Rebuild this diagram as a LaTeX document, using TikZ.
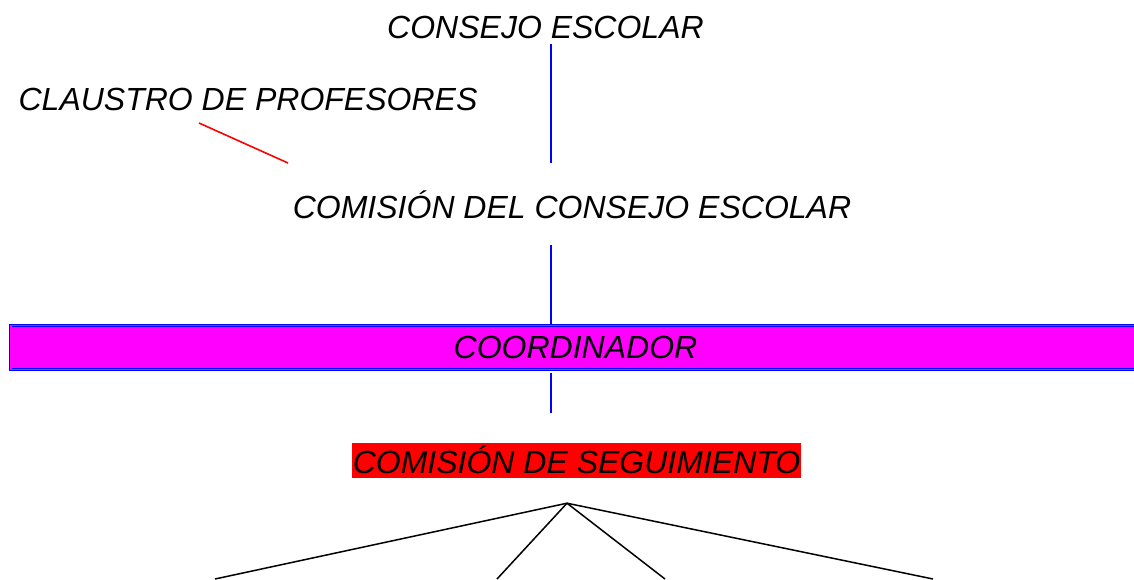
\documentclass[tikz,border=0pt]{standalone}
\usepackage{fontspec}
\setmainfont{Liberation Sans}
\usetikzlibrary{positioning}
\definecolor{boxpink}{RGB}{255,0,255}
\definecolor{boxred}{RGB}{255,0,0}
\definecolor{linkblue}{RGB}{0,0,255}
\tikzset{lbl/.style = {anchor = base, inner sep = 0, font = \fontsize{32}{36}\selectfont\itshape},
  bluelink/.style = {draw = linkblue, line width = 1.8pt},
  redlink/.style = {draw = boxred, line width = 1.6pt},
  branch/.style = {draw = black, line width = 1.5pt}}

\begin{document}
\begin{tikzpicture}[x=1pt, y=-1pt]
      \useasboundingbox (0, 0) rectangle (1134, 579);
      \clip (0, 0) rectangle (1134, 579);
      \coordinate (spine) at (551, 0);

      \node [lbl] (consejo) at (545.5, 38) {CONSEJO ESCOLAR};
      \node [lbl] (claustro) at (248, 110) {CLAUSTRO DE PROFESORES};
      \node [lbl] (comision) at (572, 218) {COMISIÓN DEL CONSEJO ESCOLAR};
      \node [lbl, anchor = center, draw = linkblue, line width = 0.8pt, double = boxpink, double distance = 1.8pt,
        fill = boxpink, minimum width = 1129.6pt, minimum height = 44pt] (coord) at (575.5, 347.5) {COORDINADOR};
      \node [lbl, fill = boxred, inner xsep = 1pt, text height = 29.7pt, text depth = 5.3pt] (seguim) at (576.5, 473) {COMISIÓN DE SEGUIMIENTO};

      \draw [bluelink] ([yshift=-6pt]consejo.base -| spine) -- ([yshift=55pt]comision.base -| spine);
      \draw [bluelink] ([yshift=-27pt]comision.base -| spine) -- (coord.north -| spine);
      \draw [bluelink] ([yshift=-3.5pt]coord.south -| spine) -- ([yshift=30pt]seguim.north -| spine);
      \draw [redlink] ([shift={(-49pt,-13pt)}]claustro.base) -- ([shift={(-284pt,55pt)}]comision.base);

      % tree below the seguimiento box
      \coordinate (apex) at ([shift={(-9.5pt,-24.7pt)}]seguim.south);
      \foreach \x [count=\i] in {215, 497, 665, 933}
      {
        \coordinate (leaf\i) at (\x, 579);
        \draw [branch] (apex) -- (leaf\i);
      }
    \end{tikzpicture}
\end{document}
